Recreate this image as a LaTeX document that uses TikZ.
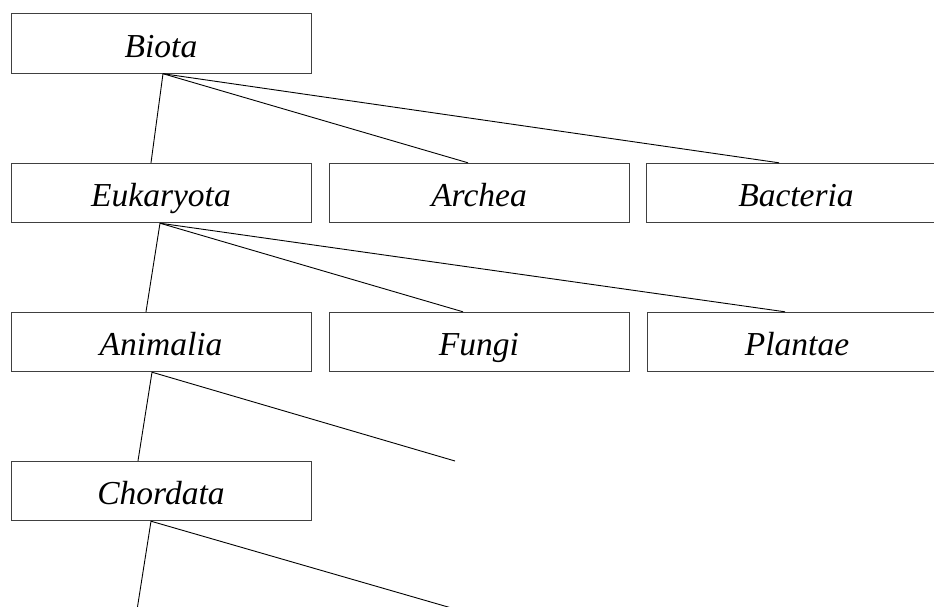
\documentclass[tikz,border=0pt]{standalone}
\usepackage{fontspec}
\setmainfont{Liberation Serif}
\usetikzlibrary{calc}
\begin{document}
\begin{tikzpicture}[x=1pt,y=-1pt,
  taxon/.style={draw=black!75,line width=0.9pt,fill=white,rectangle,minimum width=300pt,minimum height=59.5pt,inner sep=0pt,text height=27.5pt,text depth=0pt,font=\fontsize{33.5}{40}\selectfont\itshape},
  link/.style={draw=black,line width=0.9pt}]
\clip (0,0) rectangle (934,606);
\fill[white] (0,0) rectangle (934,606);
\node[taxon] (biota) at (161,43.5) {Biota};
\node[taxon] (euk) at (161,193) {Eukaryota};
\node[taxon] (archea) at (479,193) {Archea};
\node[taxon] (bact) at (796,193) {Bacteria};
\node[taxon] (anim) at (161,342) {Animalia};
\node[taxon] (fungi) at (479,342) {Fungi};
\node[taxon] (plant) at (797,342) {Plantae};
\node[taxon] (chord) at (161,491) {Chordata};
\coordinate (animfree) at (455,461);
\coordinate (chordfreeA) at (137,610);
\coordinate (chordfreeB) at (455,609);
\draw[link] ($(biota.south)+(2,0)$) -- ($(euk.north)+(-10,0)$);
\draw[link] ($(biota.south)+(2,0)$) -- ($(archea.north)+(-11,0)$);
\draw[link] ($(biota.south)+(2,0)$) -- ($(bact.north)+(-17,0)$);
\draw[link] ($(euk.south)+(-1,0)$) -- ($(anim.north)+(-15,0)$);
\draw[link] ($(euk.south)+(-1,0)$) -- ($(fungi.north)+(-16,0)$);
\draw[link] ($(euk.south)+(-1,0)$) -- ($(plant.north)+(-12,0)$);
\draw[link] ($(anim.south)+(-9,0)$) -- ($(chord.north)+(-23,0)$);
\draw[link] ($(anim.south)+(-9,0)$) -- (animfree);
\draw[link] ($(chord.south)+(-10,0)$) -- (chordfreeA);
\draw[link] ($(chord.south)+(-10,0)$) -- (chordfreeB);
\end{tikzpicture}
\end{document}
